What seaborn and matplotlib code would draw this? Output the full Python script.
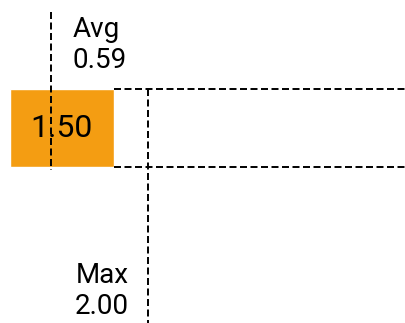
import matplotlib
matplotlib.use("Agg")
import matplotlib.pyplot as plt
import seaborn as sns
import pandas as pd

# Data
categories = ["Score"]
values = [1.50]
avg_value = 0.59
max_value = 2.00

sns.set_style("white")
plt.rcParams["font.family"] = ["Roboto", "DejaVu Sans"]
plt.rcParams["text.color"] = "black"

df = pd.DataFrame({"category": categories, "value": values})

fig = plt.figure(figsize=(4.05, 3.23), dpi=100)
ax = fig.add_axes([0, 0, 1, 1])

sns.barplot(data=df, x="value", y="category", orient="h", color="#F49D12",
            saturation=1, width=0.8, ax=ax)

x_lo, x_hi = -0.14, 5.70
ax.set_xlim(x_lo, x_hi)
ax.set_ylim(2.0, -1.313)
ax.axis("off")

dash = dict(color="black", linewidth=1.4, linestyle=(0, (3.6, 1.8)))
bar_half = 0.4

# Value label inside the bar
for i, v in enumerate(values):
    ax.text(v / 2, i, f"{v:.2f}", ha="center", va="center", fontsize=23, color="black")
    # bar top/bottom guides extending right
    ax.hlines([i - bar_half, i + bar_half], v, x_hi, **dash)

# Average line, labelled above
ax.vlines(avg_value, -1.19, bar_half + 0.03, **dash)
ax.annotate(f"Avg\n{avg_value:.2f}", xy=(avg_value, -1.19), xytext=(22, -4),
            textcoords="offset pixels", ha="left", va="top", fontsize=20,
            linespacing=1.2, color="black")

# Maximum line, labelled below
ax.vlines(max_value, -bar_half, 2.0, **dash)
ax.annotate(f"Max\n{max_value:.2f}", xy=(max_value, 2.0), xytext=(-20, 3),
            textcoords="offset pixels", ha="right", va="bottom", fontsize=20,
            linespacing=1.2, color="black")

fig.savefig("out.png", dpi=100)
